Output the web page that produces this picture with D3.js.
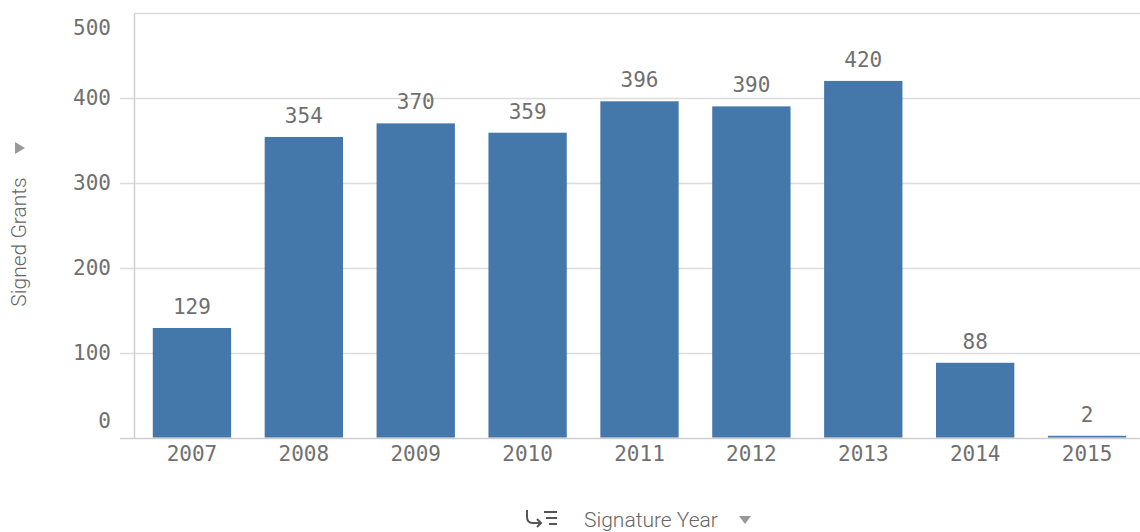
<!DOCTYPE html>
<html><head><meta charset="utf-8">
<script src="https://cdn.jsdelivr.net/npm/d3@7"></script>
<style>body{margin:0;background:#fff}svg{display:block}</style>
</head><body>
<svg id="c" width="1140" height="532"></svg>
<script>
const categories = ["2007","2008","2009","2010","2011","2012","2013","2014","2015"];
const values = [129,354,370,359,396,390,420,88,2];
const yTicks = [0,100,200,300,400,500];
const yTitle = "Signed Grants";
const xTitle = "Signature Year";

(function(){
const svg = d3.select("#c");
const pl = 134.5, pt = 13, pb = 437.5;
const x = d3.scaleBand().domain(categories).range([136, 1143]).paddingInner(0.3).paddingOuter(0.15);
const y = d3.scaleLinear().domain([0, 500]).range([pb, pt]);
const mono = "'DejaVu Sans Mono', monospace";
const sans = "Roboto, 'Open Sans', sans-serif";
const txt = "#707070";

// gridlines
svg.append("g").selectAll("line").data(yTicks).join("line")
  .attr("x1", d => (d === 500 ? pl : 120))
  .attr("x2", 1140)
  .attr("y1", d => Math.round(y(d)) + 0.5).attr("y2", d => Math.round(y(d)) + 0.5)
  .attr("stroke", d => d === 0 ? "#cfcfcf" : "#dcdcdc").attr("stroke-width", 1.5);

// left axis line
svg.append("line").attr("x1", pl).attr("x2", pl).attr("y1", pt).attr("y2", pb + 1)
  .attr("stroke", "#d0d0d0").attr("stroke-width", 1.5);

// y tick labels
svg.append("g").selectAll("text").data(yTicks).join("text")
  .attr("x", 111)
  .attr("y", d => d === 500 ? y(d) + 14 + 7.5 : d === 0 ? y(d) - 17 + 7.5 : y(d) + 7.5)
  .attr("text-anchor", "end").attr("font-family", mono).attr("font-size", 21).attr("fill", txt)
  .text(d => d);

// bars
svg.append("g").selectAll("rect").data(values).join("rect")
  .attr("x", (d, i) => x(categories[i]))
  .attr("width", x.bandwidth())
  .attr("y", d => y(d))
  .attr("height", d => pb - y(d))
  .attr("fill", "#4477aa");

// value labels
svg.append("g").selectAll("text").data(values).join("text")
  .attr("x", (d, i) => x(categories[i]) + x.bandwidth() / 2)
  .attr("y", d => y(d) - 14)
  .attr("text-anchor", "middle").attr("font-family", mono).attr("font-size", 21).attr("fill", txt)
  .text(d => d);

// x labels
svg.append("g").selectAll("text").data(categories).join("text")
  .attr("x", d => x(d) + x.bandwidth() / 2)
  .attr("y", 461)
  .attr("text-anchor", "middle").attr("font-family", mono).attr("font-size", 21).attr("fill", txt)
  .text(d => d);

// y title
const yt = svg.append("g").attr("transform", "translate(26,242) rotate(-90)");
yt.append("text").attr("text-anchor", "middle").attr("font-family", sans).attr("font-size", 21)
  .attr("font-weight", 300).attr("fill", "#666").text(yTitle);
svg.append("path").attr("d", "M15,142 L25,148 L15,154 Z").attr("fill", "#999");

// x title
svg.append("text").attr("x", 651).attr("y", 527).attr("text-anchor", "middle")
  .attr("font-family", sans).attr("font-size", 21).attr("font-weight", 300).attr("fill", "#666").text(xTitle);
svg.append("path").attr("d", "M739,516 L751,516 L745,524 Z").attr("fill", "#999");
// sort icon
const ic = svg.append("g").attr("stroke", "#555").attr("fill", "none").attr("stroke-width", 2);
ic.append("path").attr("d", "M527,510 L527,517 Q527,523 533,523 L541,523");
ic.append("path").attr("d", "M537,519 L541,523 L537,527");
ic.append("line").attr("x1", 544).attr("x2", 557).attr("y1", 512).attr("y2", 512);
ic.append("line").attr("x1", 546).attr("x2", 557).attr("y1", 518).attr("y2", 518);
ic.append("line").attr("x1", 549).attr("x2", 557).attr("y1", 524).attr("y2", 524);
})();
</script>
</body></html>
